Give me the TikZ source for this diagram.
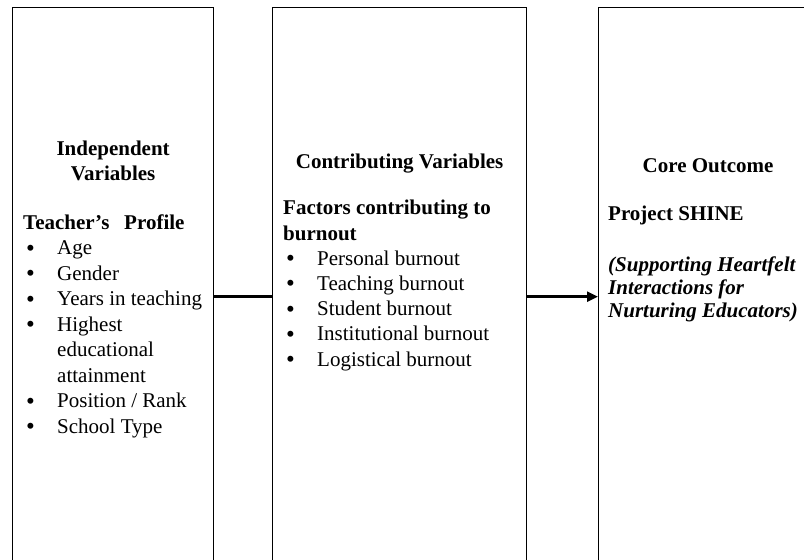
\documentclass[tikz,border=0pt]{standalone}
\usepackage{fontspec}
\setmainfont{Liberation Serif}
\usetikzlibrary{arrows.meta, positioning}
\newcommand{\bul}[1]{\makebox[34pt][l]{\hspace{3pt}\smash{\raisebox{-1.5pt}{\fontsize{25}{0}\selectfont\textbullet}}}#1}
\newcommand{\contd}[1]{\hspace*{34pt}#1}

\begin{document}
\begin{tikzpicture}[x=1pt, y=-1pt,
  colbox/.style={draw, line width=1.3pt, minimum height=578pt, anchor=north west, inner sep=0pt},
  headtxt/.style={align=center, font=\fontsize{21}{25}\selectfont\bfseries, inner sep=0pt, anchor=base},
  listtxt/.style={align=left, font=\fontsize{21}{25.5}\selectfont, inner sep=0pt, anchor=base west},
  link/.style={line width=2.4pt}
]
  \useasboundingbox (0,0) rectangle (804,560);
  \clip (0,0) rectangle (804,560);
  \node[colbox, minimum width=201pt] (indep) at (12,7) {};
  \node[colbox, minimum width=254pt] (contrib) at (272,7) {};
  \node[colbox, minimum width=219pt] (outcome) at (598,7) {};

  % multi-line texts: placed by the baseline of their last line
  \node[headtxt] (indephead) at (indep.center |- 0,180) {Independent\\Variables};
  \node[listtxt] (profile) at (23,433) {\textbf{Teacher’s\hspace{0.7em}Profile}\\
    \bul{Age}\\ \bul{Gender}\\ \bul{Years in teaching}\\ \bul{Highest}\\
    \contd{educational}\\ \contd{attainment}\\ \bul{Position / Rank}\\ \bul{School Type}};

  \node[headtxt] (contribhead) at (contrib.center |- 0,168) {Contributing Variables};
  \node[listtxt, font=\fontsize{21}{25.2}\selectfont] (factors) at (283,366) {\textbf{Factors contributing to}\\
    \textbf{burnout}\\ \bul{Personal burnout}\\ \bul{Teaching burnout}\\ \bul{Student burnout}\\
    \bul{Institutional burnout}\\ \bul{Logistical burnout}};

  \node[headtxt] (corehead) at (outcome.center |- 0,172) {Core Outcome};
  \node[listtxt, font=\fontsize{21}{25}\selectfont\bfseries] (shine) at (608,220) {Project SHINE};
  \node[listtxt, font=\fontsize{21}{23}\selectfont\bfseries\itshape] (shinefull) at (608,317)
    {(Supporting Heartfelt\\Interactions for\\Nurturing Educators)};

  \draw[link] (indep.east) -- (contrib.west);
  \draw[link, -{Triangle[length=11pt,width=10pt]}] (contrib.east) -- (outcome.west);
\end{tikzpicture}
\end{document}
